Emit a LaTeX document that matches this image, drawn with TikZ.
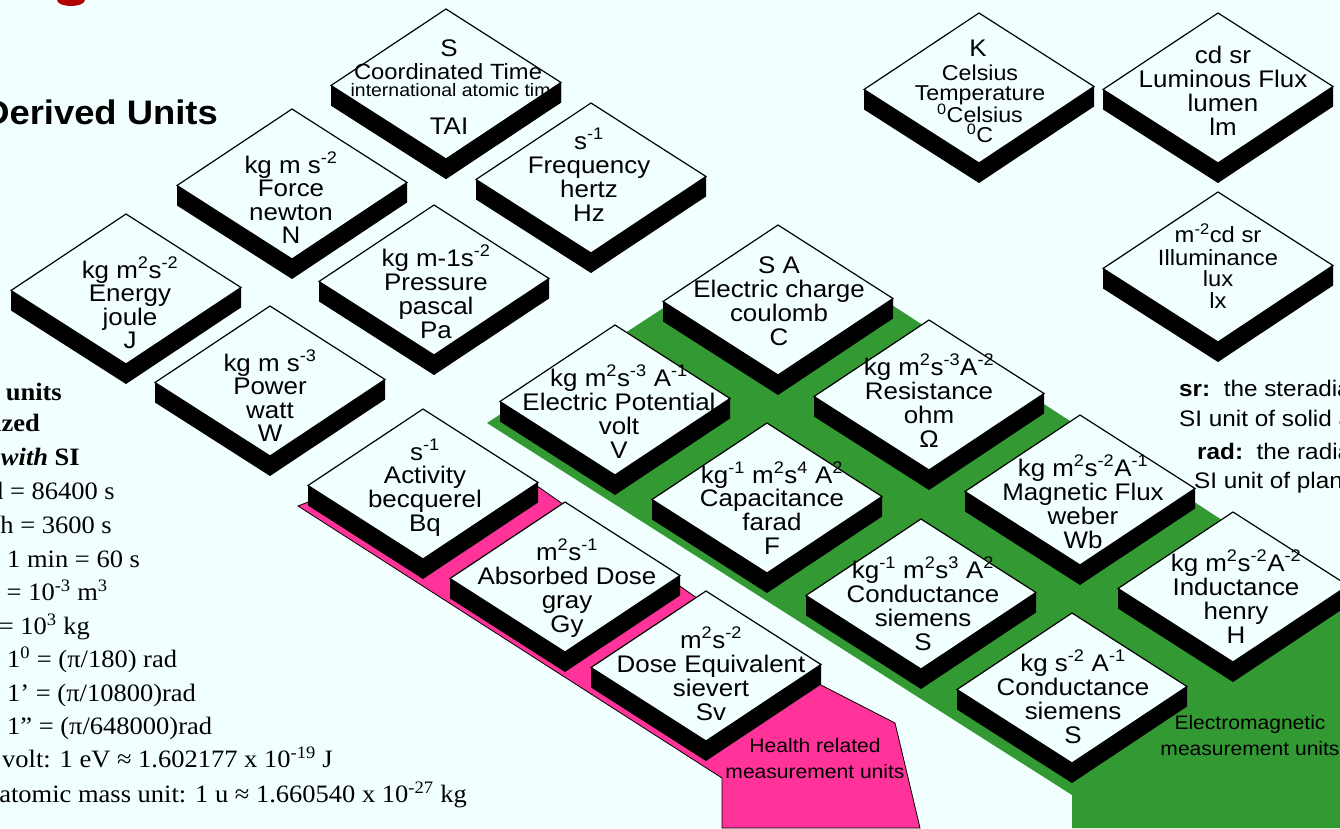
\documentclass[tikz,border=0pt]{standalone}
\usepackage{fontspec}
\setmainfont{Liberation Serif}
\setsansfont{Liberation Sans}
\definecolor{bgc}{RGB}{242,255,255}
\definecolor{emgreen}{RGB}{51,153,51}
\definecolor{hpink}{RGB}{255,51,153}
\definecolor{topred}{RGB}{180,0,0}
\newcommand\upx[1]{\textsuperscript{#1}}
\newcommand\tileside[2]{%
  \fill[black] (#1-115,#2+1.5) -- (#1,#2+75) -- (#1+115,#2-1.5) -- (#1+115,#2+18.5) -- (#1,#2+95) -- (#1-115,#2+21.5) -- cycle;}
\newcommand\tileface[2]{%
  \filldraw[tileface] (#1,#2-75) -- (#1+115,#2-1.5) -- (#1,#2+75) -- (#1-115,#2+1.5) -- cycle;}
\newcommand\tilebody[2]{\tileside{#1}{#2}\tileface{#1}{#2}}
\newcommand\tiletext[8]{%
  \node[tt] (#1-a) at (#2,#3+8) {#5};
  \node[tt] (#1-b) at (#2,#3+#4+8) {#6};
  \node[tt] (#1-c) at (#2,#3+2*#4+8) {#7};
  \node[tt] (#1-d) at (#2,#3+3*#4+8) {#8};}
\tikzset{
  tileface/.style={fill=bgc, draw=black, line width=1.2pt, line join=miter},
  tt/.style={font=\sffamily\fontsize{24}{24}\selectfont, inner sep=0pt, xscale=1.08, anchor=base},
  lefttxt/.style={font=\rmfamily\fontsize{25}{25}\selectfont, inner sep=0pt, xscale=1.06},
  righttxt/.style={font=\sffamily\fontsize{22.5}{22.5}\selectfont, inner sep=0pt, xscale=1.08, anchor=base west},
  arealbl/.style={font=\sffamily\fontsize{19.5}{19.5}\selectfont, inner sep=0pt, xscale=1.08, anchor=base},
}
\begin{document}
\begin{tikzpicture}[x=1pt,y=-1pt]
\useasboundingbox (0,0) rectangle (1340,828);
\fill[bgc] (0,0) rectangle (1340,828);
% red fragment at top
\fill[topred] (57,0) .. controls (58,8) and (84,8) .. (85,0) -- cycle;
% title
\node[anchor=base east, font=\sffamily\bfseries\fontsize{34}{34}\selectfont, xscale=1.07, inner sep=0pt] (title) at (218,124) {Derived Units};
% coloured areas
\fill[emgreen] (487,423) -- (780,232) -- (1340,597) -- (1340,828) -- (1072,828) -- (1072,795) -- cycle;
\filldraw[fill=hpink, draw=black, line width=0.8pt] (298,506) -- (465,440) -- (540,488) -- (821,685) -- (895,723) -- (920,828) -- (722,828) -- (722,778) -- cycle;
% tiles
\tilebody{446}{84}
\node[tt] (tai-a) at (449,56) {S};
\node[tt, font=\sffamily\fontsize{22}{22}\selectfont] (tai-b) at (448,79) {Coordinated Time};
\node[tt, font=\sffamily\fontsize{18}{18}\selectfont] (tai-c) at (456,96.5) {international atomic time};
\node[tt] (tai-d) at (449,134) {TAI};
\tileside{446}{84}
\tilebody{591}{178}\tiletext{freq}{589}{141}{24}{s\upx{-1}}{Frequency}{hertz}{Hz}
\tilebody{292}{184}\tiletext{force}{291}{165}{23.5}{kg m s\upx{-2}}{Force}{newton}{N}
\tilebody{126}{289}\tiletext{energy}{130}{270}{23.5}{kg m\upx{2}s\upx{-2}}{Energy}{joule}{J}
\tilebody{434}{280}\tiletext{press}{436}{258}{24}{kg m-1s\upx{-2}}{Pressure}{pascal}{Pa}
\tilebody{270}{381}\tiletext{power}{270}{363}{23.5}{kg m s\upx{-3}}{Power}{watt}{W}
\tilebody{778}{300}\tiletext{charge}{779}{265}{24}{S A}{Electric charge}{coulomb}{C}
\tilebody{615}{400}\tiletext{volt}{619}{378}{24}{kg m\upx{2}s\upx{-3} A\upx{-1}}{Electric Potential}{volt}{V}
\tilebody{929}{395}\tiletext{ohm}{929}{367}{24}{kg m\upx{2}s\upx{-3}A\upx{-2}}{Resistance}{ohm}{Ω}
\tilebody{767}{498}\tiletext{farad}{772}{475}{23.7}{kg\upx{-1} m\upx{2}s\upx{4} A\upx{2}}{Capacitance}{farad}{F}
\tilebody{1080}{490}\tiletext{weber}{1083}{468}{24}{kg m\upx{2}s\upx{-2}A\upx{-1}}{Magnetic Flux}{weber}{Wb}
\tilebody{921}{594}\tiletext{siemA}{923}{570}{24}{kg\upx{-1} m\upx{2}s\upx{3} A\upx{2}}{Conductance}{siemens}{S}
\tilebody{423}{484}\tiletext{bq}{425}{452}{23.7}{s\upx{-1}}{Activity}{becquerel}{Bq}
\tilebody{565}{577}\tiletext{gray}{567}{552}{24}{m\upx{2}s\upx{-1}}{Absorbed Dose}{gray}{Gy}
\tilebody{706}{666}\tiletext{sv}{711}{640}{24}{m\upx{2}s\upx{-2}}{Dose Equivalent}{sievert}{Sv}
\tilebody{1072}{688}\tiletext{siemB}{1073}{663}{24}{kg s\upx{-2} A\upx{-1}}{Conductance}{siemens}{S}
\tilebody{1233}{587}\tiletext{henry}{1236}{563}{24}{kg m\upx{2}s\upx{-2}A\upx{-2}}{Inductance}{henry}{H}
\tilebody{979}{88}
\node[tt] (cel-a) at (978,56) {K};
\begin{scope}[every node/.style={tt, font=\sffamily\fontsize{21.5}{21.5}\selectfont}]
\node (cel-b) at (980,80) {Celsius};
\node (cel-c) at (980,100) {Temperature};
\node (cel-d) at (980,122) {\upx{0}Celsius};
\node (cel-e) at (980,142) {\upx{0}C};
\end{scope}
\tilebody{1218}{88}\tiletext{lumen}{1223}{55}{24}{cd sr}{Luminous Flux}{lumen}{lm}
\tilebody{1218}{267}
\begin{scope}[every node/.style={tt, font=\sffamily\fontsize{22}{22}\selectfont}]
\node (lux-a) at (1218,242.5) {m\upx{-2}cd sr};
\node (lux-b) at (1218,265.5) {Illuminance};
\node (lux-c) at (1218,286.5) {lux};
\node (lux-d) at (1218,308.5) {lx};
\end{scope}
% area labels
\node[arealbl] (hl-a) at (815,752) {Health related};
\node[arealbl] (hl-b) at (815,778) {measurement units};
\node[arealbl] (em-a) at (1250,729) {Electromagnetic};
\node[arealbl] (em-b) at (1250,755) {measurement units};
% left text
\node[lefttxt, anchor=base east] (lt1) at (62,400) {\textbf{units}};
\node[lefttxt, anchor=base east] (lt2) at (40,431.5) {\textbf{ized}};
\node[lefttxt, anchor=base east] (lt3) at (80,465.5) {\textbf{\textit{with} SI}};
\node[lefttxt, anchor=base east] (lt4) at (115,499.5) {d = 86400 s};
\node[lefttxt, anchor=base east] (lt5) at (112,533.5) {h = 3600 s};
\node[lefttxt, anchor=base west] (lt6) at (7,567.5) {1 min = 60 s};
\node[lefttxt, anchor=base east] (lt7) at (108,600.5) {l = 10\upx{-3} m\upx{3}};
\node[lefttxt, anchor=base east] (lt8) at (90,634.5) {= 10\upx{3} kg};
\node[lefttxt, anchor=base west] (lt9) at (7,667.5) {1\upx{0} = (π/180) rad};
\node[lefttxt, anchor=base west] (lt10) at (7,701.5) {1’ = (π/10800)rad};
\node[lefttxt, anchor=base west] (lt11) at (7,734.5) {1” = (π/648000)rad};
\node[lefttxt, anchor=base east] (lt12) at (333,767.5) {volt: 1 eV ≈ 1.602177 x 10\upx{-19} J};
\node[lefttxt, anchor=base east] (lt13) at (467,802.5) {atomic mass unit: 1 u ≈ 1.660540 x 10\upx{-27} kg};
% right text
\node[righttxt] (rt1) at (1179,396) {\textbf{sr:}\ \ the steradia};
\node[righttxt] (rt2) at (1179,426) {SI unit of solid a};
\node[righttxt] (rt3) at (1197,459) {\textbf{rad:}\ \ the radia};
\node[righttxt] (rt4) at (1194,488) {SI unit of plan};
\end{tikzpicture}
\end{document}
